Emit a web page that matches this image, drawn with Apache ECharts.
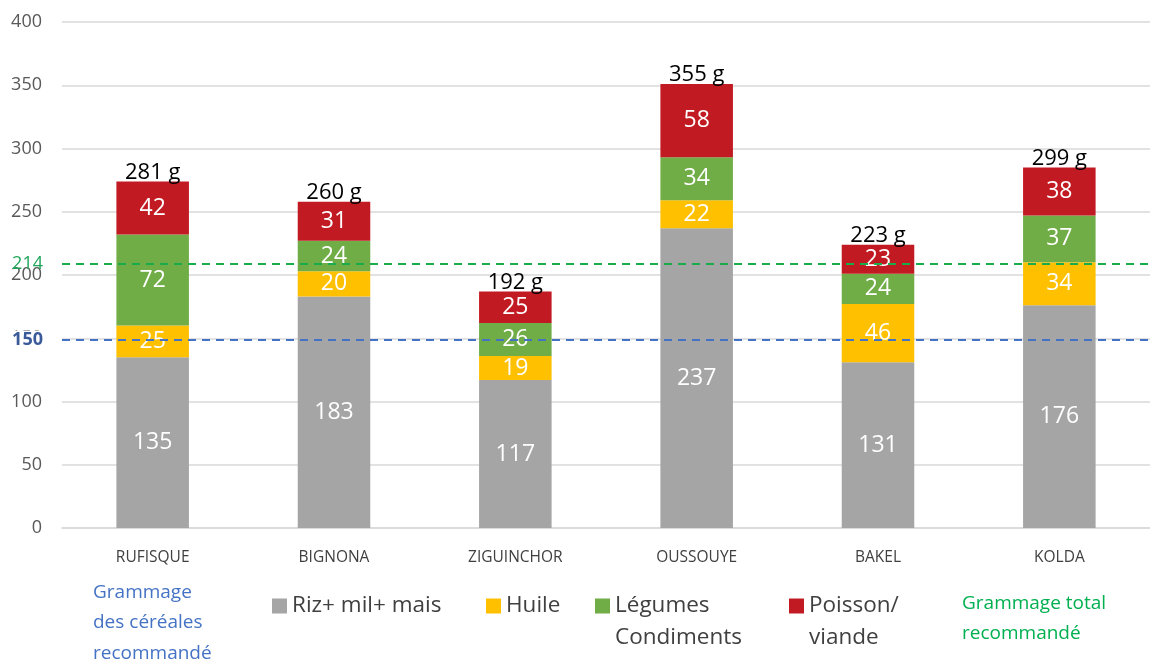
<!DOCTYPE html>
<html>
<head>
<meta charset="utf-8">
<script src="https://cdn.jsdelivr.net/npm/echarts@6/dist/echarts.min.js"></script>
<style>
  html, body { margin: 0; padding: 0; background: #fff; }
  #chart { width: 1150px; height: 661px; }
</style>
</head>
<body>
<div id="chart"></div>
<script>
// Regions and grams per food group
var regions = ['RUFISQUE', 'BIGNONA', 'ZIGUINCHOR', 'OUSSOUYE', 'BAKEL', 'KOLDA'];
var cereales = [135, 183, 117, 237, 131, 176];
var huile = [25, 20, 19, 22, 46, 34];
var legumes = [72, 24, 26, 34, 24, 37];
var poisson = [42, 31, 25, 58, 23, 38];
var totals = [281, 260, 192, 355, 223, 299];

// Recommended reference lines (position, label as printed)
var cerealLine = 149;
var cerealLabel = '150';
var totalLine = 209;
var totalLabel = '214';

var yTicks = { min: 0, max: 400, interval: 50 };

var font = 'Open Sans';
var chart = echarts.init(document.getElementById('chart'));

function segment(name, values, color, extra) {
    var s = {
        name: name,
        type: 'bar',
        stack: 'total',
        barWidth: '40%',
        data: values,
        itemStyle: { color: color },
        label: {
            show: true,
            position: 'inside',
            color: '#fff',
            fontSize: 23,
            fontFamily: font
        }
    };
    if (extra) {
        for (var k in extra) s[k] = extra[k];
    }
    return s;
}

// one legend per item so each sits where it does in the original;
// two-line names get a blank first line so the box lines up with the first word
function legendItem(name, left) {
    var twoLines = name.indexOf('\n') >= 0;
    return {
        data: [name],
        left: left,
        top: twoLines ? 558 : 590,
        padding: 0,
        itemWidth: 15,
        itemHeight: 15,
        icon: 'rect',
        formatter: function (n) { return twoLines ? ' \n' + n : n; },
        textStyle: {
            fontSize: 22.5,
            fontFamily: font,
            color: '#404040',
            lineHeight: 32
        }
    };
}

var option = {
    backgroundColor: '#fff',
    animation: false,
    grid: { left: 62, width: 1097, top: 22, bottom: 133 },
    xAxis: {
        type: 'category',
        data: regions,
        axisTick: { show: false },
        axisLine: { lineStyle: { color: '#d9d9d9', width: 1.5 } },
        axisLabel: { color: '#404040', fontSize: 15.5, fontFamily: font, margin: 22 }
    },
    yAxis: {
        type: 'value',
        min: yTicks.min,
        max: yTicks.max,
        interval: yTicks.interval,
        axisLabel: { color: '#595959', fontSize: 18, fontFamily: font, margin: 20 },
        splitLine: { lineStyle: { color: '#d9d9d9', width: 1.5 } }
    },
    legend: [
        legendItem('Riz+ mil+ mais', 272),
        legendItem('Huile', 486),
        legendItem('Légumes\nCondiments', 595),
        legendItem('Poisson/\nviande', 789)
    ],
    graphic: [
        {
            type: 'text', left: 93, top: 577,
            style: {
                text: 'Grammage\ndes céréales\nrecommandé',
                fill: '#4472c4', fontSize: 19, fontFamily: font, lineHeight: 30.5
            }
        },
        {
            type: 'text', left: 962, top: 588,
            style: {
                text: 'Grammage total\nrecommandé',
                fill: '#00b050', fontSize: 19, fontFamily: font, lineHeight: 30.5
            }
        }
    ],
    series: [
        segment('Riz+ mil+ mais', cereales, '#a5a5a5', {
            markLine: {
                silent: true,
                symbol: 'none',
                data: [
                    {
                        yAxis: cerealLine,
                        lineStyle: { color: '#4472c4', type: [8, 6], width: 2 },
                        label: {
                            position: 'start', formatter: cerealLabel, color: '#3b5a9a',
                            backgroundColor: '#fff',
                            fontSize: 18, fontWeight: 'bold', fontFamily: font, distance: 19
                        }
                    },
                    {
                        yAxis: totalLine,
                        lineStyle: { color: '#1aab4b', type: [8, 6], width: 2 },
                        label: {
                            position: 'start', formatter: totalLabel, color: '#1fa65a',
                            fontSize: 18, fontFamily: font, distance: 19
                        }
                    }
                ]
            }
        }),
        segment('Huile', huile, '#ffc000'),
        segment('Légumes\nCondiments', legumes, '#70ad47'),
        segment('Poisson/\nviande', poisson, '#c21a22'),
        {
            name: 'Total',
            type: 'bar',
            stack: 'total',
            barWidth: '40%',
            data: regions.map(function () { return 0; }),
            label: {
                show: true,
                position: 'top',
                distance: -2,
                color: '#000',
                fontSize: 22,
                fontFamily: font,
                formatter: function (p) { return totals[p.dataIndex] + ' g'; }
            }
        }
    ]
};

chart.setOption(option);
</script>
</body>
</html>
